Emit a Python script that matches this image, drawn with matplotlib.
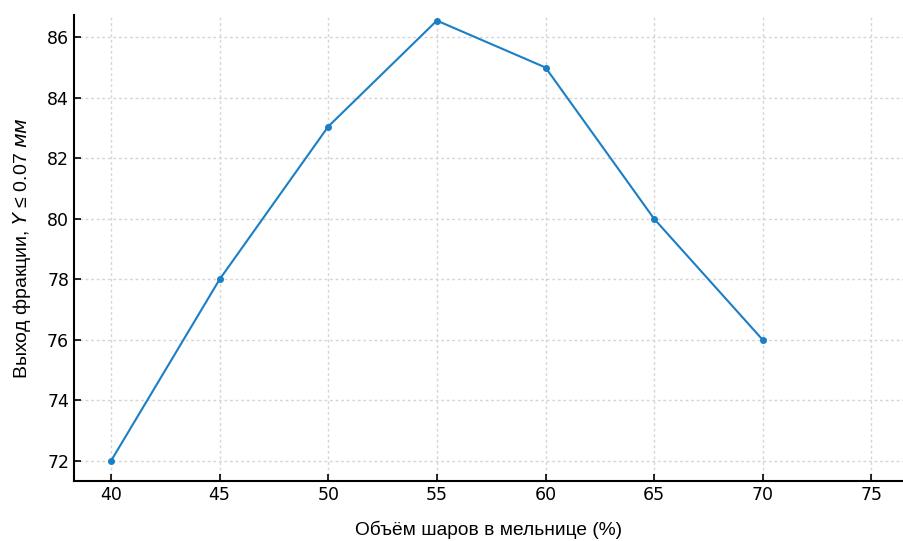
import matplotlib
matplotlib.use("Agg")
import matplotlib.pyplot as plt
from matplotlib import font_manager

volume = [40, 45, 50, 55, 60, 65, 70]
yield_frac = [72.0, 78.0, 83.05, 86.55, 85.0, 80.0, 76.0]
xticks = [40, 45, 50, 55, 60, 65, 70, 75]
yticks = [72, 74, 76, 78, 80, 82, 84, 86]

names = {f.name for f in font_manager.fontManager.ttflist}
label_font = ['Liberation Sans Narrow', 'Liberation Sans', 'DejaVu Sans'] if 'Liberation Sans Narrow' in names else ['Liberation Sans', 'DejaVu Sans']

fig = plt.figure(figsize=(9.04, 5.41), dpi=100)
ax = fig.add_axes([0.0819, 0.111, 0.9181, 0.861])
ax.plot(volume, yield_frac, color='#1a7fc4', linewidth=1.5, marker='o', markersize=4)
ax.set_xlim(38.3, 76.5)
ax.set_ylim(71.34, 86.73)
ax.set_xticks(xticks)
ax.set_yticks(yticks)
ax.grid(True, linestyle=(0, (2, 2)), color='#d5d5d5', linewidth=1.0)
ax.spines['top'].set_visible(False)
ax.spines['right'].set_visible(False)
ax.spines['left'].set_linewidth(1.5)
ax.spines['bottom'].set_linewidth(1.5)
ax.tick_params(direction='in', labelsize=12.5, length=5, width=1.2, labelfontfamily='DejaVu Sans')
ax.set_xlabel('Объём шаров в мельнице (%)', fontsize=13.8, family=label_font, labelpad=12)
ax.set_ylabel('Выход фракции, $\\mathit{Y}$ ≤ 0.07 $\\mathit{мм}$', fontsize=14, family=label_font, labelpad=10)
fig.savefig('out.png', dpi=100)
